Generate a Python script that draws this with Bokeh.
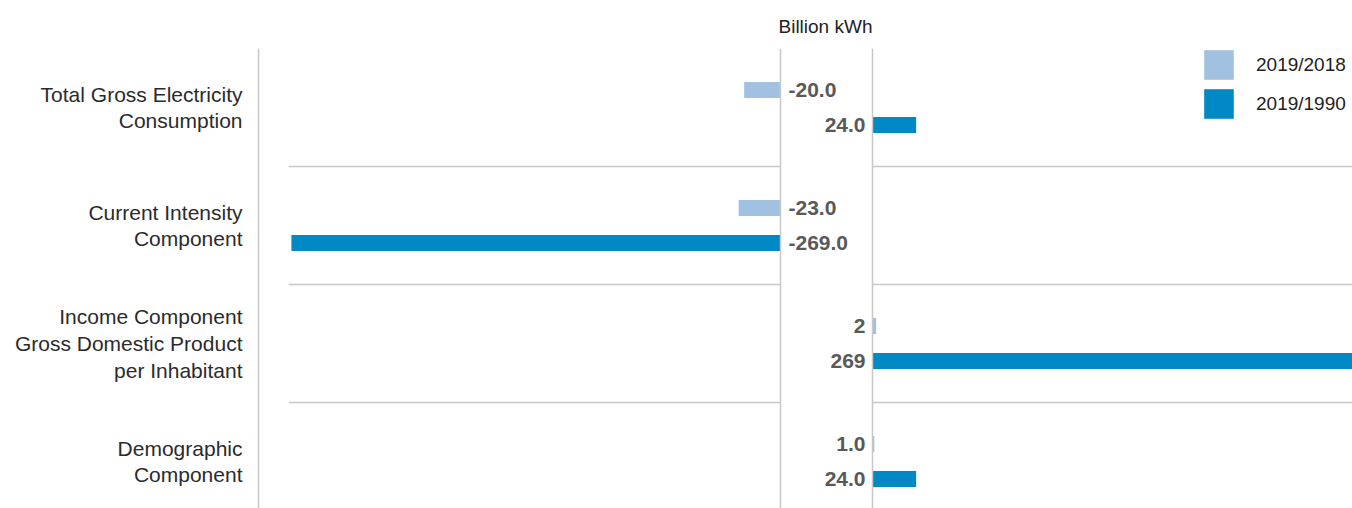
from bokeh.plotting import figure
from bokeh.models import (Range1d, FixedTicker, Span, Legend, LegendItem,
                          ColumnDataSource)
from bokeh.core.properties import value
from bokeh.embed import file_html
from bokeh.resources import INLINE

# ---- data ----
categories = ["Total Gross Electricity\nConsumption",
              "Current Intensity\nComponent",
              "Income Component\nGross Domestic Product\nper Inhabitant",
              "Demographic\nComponent"]
series_names = ["2019/2018", "2019/1990"]
vals_2018 = [-20.0, -23.0, 2, 1.0]
vals_1990 = [24.0, -269.0, 269, 24.0]
text_2018 = ["-20.0", "-23.0", "2", "1.0"]
text_1990 = ["24.0", "-269.0", "269", "24.0"]
unit_title = "Billion kWh"

# ---- style ----
C_LIGHT = "#a0c2e0"
C_DARK = "#0089c4"
C_GRID = "#c8c8c8"
FONT = "Liberation Sans"
G = 25.3          # half gap between negative and positive zero lines (data units)
OFF = 0.148       # bar offset within a band
H = 0.136         # bar thickness

p = figure(width=1352, height=508, output_backend="svg", toolbar_location=None,
           x_axis_type=None, x_range=Range1d(-312.4, 289.3),
           y_range=Range1d(3.398, -0.5),
           min_border_left=258, min_border_top=48, min_border_bottom=0,
           min_border_right=0)
p.outline_line_color = None
p.xgrid.visible = False
p.ygrid.visible = False
p.background_fill_color = "white"

p.title.text = unit_title
p.title.align = "left"
p.title.offset = 520
p.title.standoff = 23
p.title.text_font = FONT
p.title.text_font_size = "19px"
p.title.text_font_style = "normal"
p.title.text_color = "#222222"

yax = p.yaxis[0]
yax.ticker = FixedTicker(ticks=list(range(len(categories))))
yax.major_label_overrides = {i: c for i, c in enumerate(categories)}
yax.major_tick_line_color = None
yax.minor_tick_line_color = None
yax.major_tick_out = 0
yax.major_tick_in = 0
yax.major_label_standoff = 16
yax.axis_line_color = C_GRID
yax.axis_line_width = 1.5
yax.major_label_text_font = FONT
yax.major_label_text_font_size = "21px"
yax.major_label_text_color = "#2b2b2b"
yax.major_label_text_line_height = 1.17

def span_lr(vals):
    left = [v - G if v < 0 else G for v in vals]
    right = [-G if v < 0 else v + G for v in vals]
    return left, right

# separators between bands (broken across the gap)
n = len(categories)
sep_y = [i + 0.5 for i in range(n - 1)]
x_min = min(vals_2018 + vals_1990) - G - 1.5
p.segment(x0=[x_min] * len(sep_y), x1=[-G] * len(sep_y), y0=sep_y, y1=sep_y,
          line_color=C_GRID, line_width=1.5)
p.segment(x0=[G] * len(sep_y), x1=[400] * len(sep_y), y0=sep_y, y1=sep_y,
          line_color=C_GRID, line_width=1.5)

for loc in (-G, G):
    p.add_layout(Span(location=loc, dimension="height", line_color=C_GRID, line_width=1.5))

renderers = []
for vals, texts, color, off in ((vals_2018, text_2018, C_LIGHT, -OFF),
                                (vals_1990, text_1990, C_DARK, OFF)):
    l, r = span_lr(vals)
    ys = [i + off for i in range(n)]
    src = ColumnDataSource(dict(y=ys, left=l, right=r))
    rr = p.hbar(y="y", left="left", right="right", height=H, source=src,
                fill_color=color, line_color=None)
    renderers.append(rr)
    neg = [(i, t) for i, (v, t) in enumerate(zip(vals, texts)) if v < 0]
    pos = [(i, t) for i, (v, t) in enumerate(zip(vals, texts)) if v >= 0]
    if neg:
        p.text(x=[-G] * len(neg), y=[ys[i] for i, _ in neg], text=[t for _, t in neg],
               x_offset=8, text_align="left", text_baseline="middle",
               text_font=value(FONT), text_font_style="bold", text_font_size="21px",
               text_color="#595959")
    if pos:
        p.text(x=[G] * len(pos), y=[ys[i] for i, _ in pos], text=[t for _, t in pos],
               x_offset=-7, text_align="right", text_baseline="middle",
               text_font=value(FONT), text_font_style="bold", text_font_size="21px",
               text_color="#595959")

legend = Legend(items=[LegendItem(label=series_names[0], renderers=[renderers[0]]),
                       LegendItem(label=series_names[1], renderers=[renderers[1]])],
                location=(942, 386), glyph_width=37, glyph_height=37, label_height=37,
                spacing=2, padding=0, margin=0, label_standoff=19,
                border_line_color=None, background_fill_alpha=0,
                label_text_font=FONT, label_text_font_size="19px",
                label_text_color="#222222")
p.add_layout(legend)

open("out.html", "w").write(file_html(p, INLINE))
